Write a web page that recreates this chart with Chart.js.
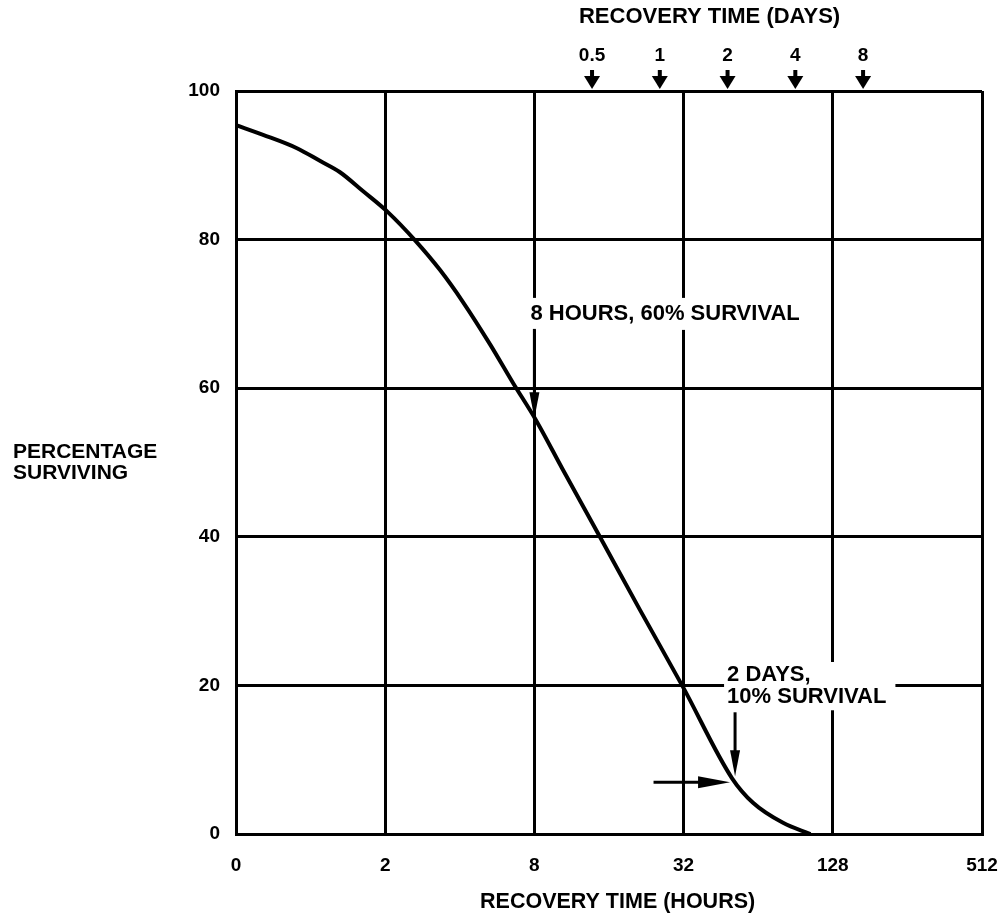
<!DOCTYPE html>
<html>
<head>
<meta charset="utf-8">
<script src="https://cdn.jsdelivr.net/npm/chart.js@4.4.0/dist/chart.umd.min.js"></script>
<style>
  html, body { margin: 0; padding: 0; background: #fff; }
</style>
</head>
<body>
<canvas id="survivalChart" width="1006" height="914"></canvas>
<script>
// curve: recovery time (hours) vs percentage surviving
const hours = [0.5, 0.643, 0.881, 1.09, 1.31, 1.63, 2.05, 2.64, 3.33, 4.12, 5.3, 6.56, 8.12, 10.4, 14.7, 21.3, 31.8, 50.2, 61, 80.6, 104];
const surviving = [95.4, 94.1, 92.3, 90.6, 89.1, 86.5, 83.7, 79.9, 75.9, 71.6, 65.9, 60.7, 55.7, 49.1, 40.0, 30.2, 19.8, 7.5, 4.2, 1.5, 0];

// axis ticks
const hourTicks = [0.5, 2, 8, 32, 128, 512];   // first one is printed as "0"
const dayTicks = [0.5, 1, 2, 4, 8];
const percentTicks = [0, 20, 40, 60, 80, 100];

// the days scale on top is not lined up with the hours scale in the original
const dayAxisMin = 0.0131;
const dayAxisMax = 27;

// callouts
const mark8h = { hours: 8, pct: 55.7, labelPct: 70 };
const mark2d = { hours: 50.2, pct: 7.5, fromHours: 24.2 };

const FONT = '"Liberation Sans", Arial, Helvetica, sans-serif';
Chart.defaults.font.family = FONT;
Chart.defaults.font.weight = 'bold';
Chart.defaults.color = '#000';

function arrowDown(ctx, x, y1, y2, headLen, headW) {
    ctx.beginPath();
    ctx.moveTo(x, y1);
    ctx.lineTo(x, y2 - headLen + 2);
    ctx.stroke();
    ctx.beginPath();
    ctx.moveTo(x - headW / 2, y2 - headLen);
    ctx.lineTo(x + headW / 2, y2 - headLen);
    ctx.lineTo(x, y2);
    ctx.closePath();
    ctx.fill();
}

function arrowRight(ctx, x1, x2, y, headLen, headW) {
    ctx.beginPath();
    ctx.moveTo(x1, y);
    ctx.lineTo(x2 - headLen + 2, y);
    ctx.stroke();
    ctx.beginPath();
    ctx.moveTo(x2 - headLen, y - headW / 2);
    ctx.lineTo(x2 - headLen, y + headW / 2);
    ctx.lineTo(x2, y);
    ctx.closePath();
    ctx.fill();
}

const annotate = {
    id: 'annotate',
    afterDatasetsDraw(chart) {
        const { ctx } = chart;
        const { x, y, x2 } = chart.scales;
        ctx.save();
        ctx.fillStyle = '#000';
        ctx.strokeStyle = '#000';
        ctx.font = 'bold 22px ' + FONT;
        ctx.textBaseline = 'middle';
        ctx.textAlign = 'left';

        // 8 hours callout
        let px = x.getPixelForValue(mark8h.hours);
        let ty = y.getPixelForValue(mark8h.labelPct);
        let txt = '8 HOURS, 60% SURVIVAL';
        let w = ctx.measureText(txt).width;
        ctx.fillStyle = '#fff';
        ctx.fillRect(px - 7, ty - 16, w + 10, 32);
        ctx.fillStyle = '#000';
        ctx.fillText(txt, px - 4, ty);
        ctx.lineWidth = 3;
        arrowDown(ctx, px, ty + 15, y.getPixelForValue(mark8h.pct) - 2, 26, 10);

        // 2 days callout
        const dx = x.getPixelForValue(mark2d.hours);
        const dy = y.getPixelForValue(mark2d.pct);
        const l1 = y.getPixelForValue(21.4);
        const l2 = y.getPixelForValue(18.4);
        w = ctx.measureText('10% SURVIVAL').width;
        ctx.fillStyle = '#fff';
        ctx.fillRect(dx - 8, l1 - 13, w + 12, l2 - l1 + 26);
        ctx.fillStyle = '#000';
        ctx.fillText('2 DAYS,', dx - 5, l1);
        ctx.fillText('10% SURVIVAL', dx - 5, l2);
        arrowDown(ctx, dx + 3, l2 + 15, dy - 2, 26, 10);
        arrowRight(ctx, x.getPixelForValue(mark2d.fromHours), dx - 2, dy + 4, 32, 12);

        // arrows under the day ticks
        dayTicks.forEach(d => {
            const ax = x2.getPixelForValue(d);
            ctx.fillRect(ax - 2, 70, 4, 9);
            ctx.beginPath();
            ctx.moveTo(ax - 8, 76);
            ctx.lineTo(ax + 8, 76);
            ctx.lineTo(ax, 89);
            ctx.closePath();
            ctx.fill();
        });

        // titles not tied to an axis box
        ctx.textAlign = 'center';
        ctx.fillText('RECOVERY TIME (DAYS)', x2.getPixelForValue(2) - 18, 17);
        ctx.font = 'bold 21.5px ' + FONT;
        ctx.fillText('RECOVERY TIME (HOURS)', x.getPixelForValue(32) - 66, 902);
        ctx.font = 'bold 21px ' + FONT;
        ctx.textAlign = 'left';
        ctx.fillText('PERCENTAGE', 13, 452);
        ctx.fillText('SURVIVING', 13, 473);
        ctx.restore();
    }
};

const points = hours.map((h, i) => ({ x: h, y: surviving[i] }));

function noSidePadding(s) {
    s.paddingLeft = 0;
    s.paddingRight = 0;
}

const config = {
    type: 'line',
    data: {
        datasets: [
            {
                label: 'Percentage surviving',
                data: points,
                xAxisID: 'x',
                yAxisID: 'y',
                borderColor: '#000',
                borderWidth: 4,
                pointRadius: 0,
                fill: false,
                cubicInterpolationMode: 'monotone',
            }
        ]
    },
    options: {
        responsive: false,
        animation: false,
        layout: { padding: { left: 0, right: 24, top: 0, bottom: 0 } },
        plugins: {
            legend: { display: false },
            tooltip: { enabled: false },
        },
        scales: {
            x: {
                type: 'logarithmic',
                position: 'bottom',
                min: 0.5,
                max: 512,
                afterBuildTicks: s => { s.ticks = hourTicks.map(v => ({ value: v })); },
                afterFit: s => { s.height = 80; noSidePadding(s); },
                grid: { color: '#000', lineWidth: 3, drawTicks: false },
                border: { color: '#000', width: 3 },
                ticks: {
                    padding: 20,
                    color: '#000',
                    autoSkip: false,
                    maxRotation: 0,
                    font: { size: 19, weight: 'bold' },
                    callback: v => v === 0.5 ? '0' : String(v),
                },
            },
            x2: {
                type: 'logarithmic',
                position: 'top',
                min: dayAxisMin,
                max: dayAxisMax,
                afterBuildTicks: s => { s.ticks = dayTicks.map(v => ({ value: v })); },
                afterFit: s => { s.height = 91; noSidePadding(s); },
                grid: { display: false, drawTicks: false },
                border: { display: false },
                ticks: {
                    padding: 24,
                    color: '#000',
                    autoSkip: false,
                    maxRotation: 0,
                    font: { size: 19, weight: 'bold' },
                    callback: v => String(v),
                },
            },
            y: {
                type: 'linear',
                min: 0,
                max: 100,
                afterBuildTicks: s => { s.ticks = percentTicks.map(v => ({ value: v })); },
                afterFit: s => { s.width = 236; s.paddingTop = 0; s.paddingBottom = 0; },
                grid: { color: '#000', lineWidth: 3, drawTicks: false },
                border: { color: '#000', width: 3 },
                ticks: {
                    padding: 16,
                    color: '#000',
                    font: { size: 19, weight: 'bold' },
                },
            },
        }
    },
    plugins: [annotate]
};

var survivalChart = new Chart(document.getElementById('survivalChart'), config);
</script>
</body>
</html>
